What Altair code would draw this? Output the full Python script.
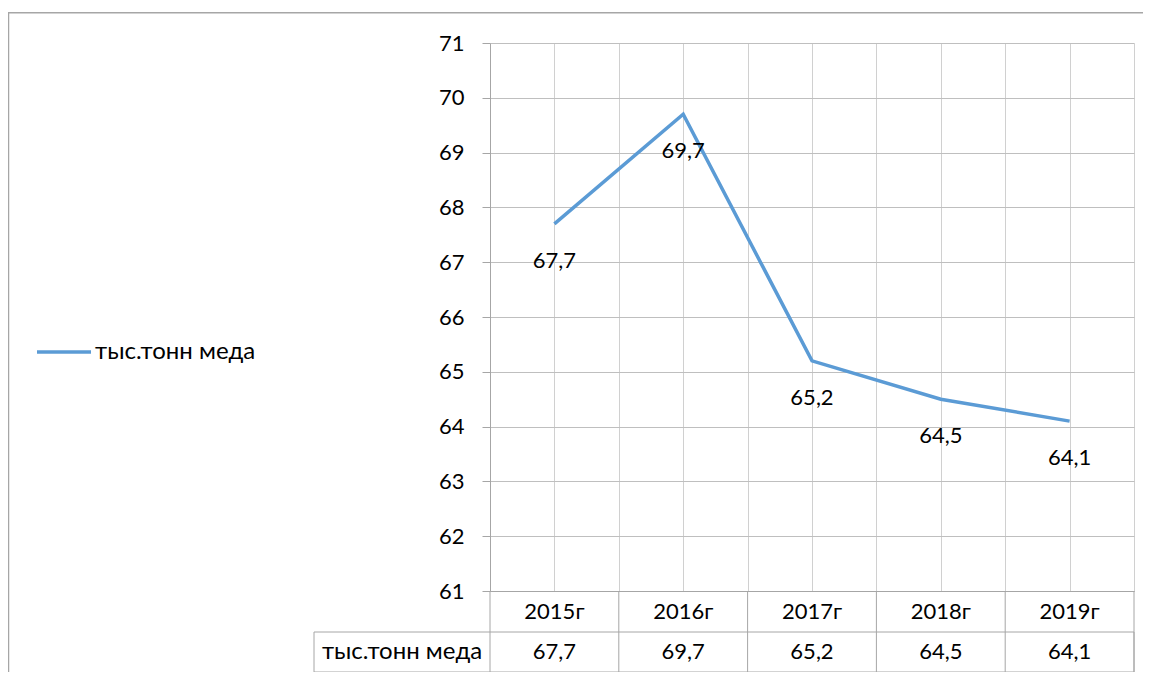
import altair as alt
import pandas as pd

# ---- data ----
years = ["2015г", "2016г", "2017г", "2018г", "2019г"]
values = [67.7, 69.7, 65.2, 64.5, 64.1]
series_name = "тыс.тонн меда"
y_ticks = [61, 62, 63, 64, 65, 66, 67, 68, 69, 70, 71]

FONT = "Lato"
FS = 22
FS_LABEL = 24
LINE_COLOR = "#5B9BD5"
BORDER = "#A6A6A6"
W, H = 644, 548

n = len(years)
df = pd.DataFrame({
    "year": years,
    "value": values,
    "pos": [i + 0.5 for i in range(n)],
    "series": [series_name] * n,
    "label": [f"{v:.1f}".replace(".", ",") for v in values],
})
bounds = pd.DataFrame({"b": list(range(n + 1))})
one = pd.DataFrame({"series": [series_name]})

xs = alt.Scale(domain=[0, n], nice=False, zero=False)
ys = alt.Scale(domain=[y_ticks[0], y_ticks[-1]], nice=False, zero=False)

x_axis = alt.Axis(values=[i * 0.5 for i in range(2 * n + 1)], labels=False, ticks=False,
                  title=None, grid=True, gridColor="#D0D0D0", domainColor=BORDER)
y_axis = alt.Axis(values=y_ticks, title=None, grid=True, gridColor="#BFBFBF",
                  tickSize=8, tickColor=BORDER, domainColor=BORDER,
                  labelFont=FONT, labelFontSize=FS, labelColor="#000000", labelPadding=18)

line = alt.Chart(df).mark_line(strokeWidth=3.5).encode(
    x=alt.X("pos:Q", scale=xs, axis=x_axis),
    y=alt.Y("value:Q", scale=ys, axis=y_axis),
    color=alt.Color("series:N", scale=alt.Scale(range=[LINE_COLOR]),
                    legend=alt.Legend(orient="none", legendX=-455, legendY=280, title=None,
                                      symbolType="stroke", symbolSize=2916, symbolStrokeWidth=3.5,
                                      labelFont=FONT, labelFontSize=FS_LABEL, labelColor="#000000",
                                      labelOffset=2, labelLimit=400)),
)

point_labels = alt.Chart(df).mark_text(dy=37, baseline="middle", align="center",
                                       font=FONT, fontSize=FS, color="#000000").encode(
    x=alt.X("pos:Q", scale=xs),
    y=alt.Y("value:Q", scale=ys),
    text="label:N",
)

# ---- data table below the plot ----
grid_rules = alt.Chart(bounds).mark_rule(color=BORDER, strokeWidth=1).encode(
    x=alt.X("b:Q", scale=xs),
    y=alt.value(H), y2=alt.value(629),
)
row2_box = alt.Chart(one).mark_rect(fillOpacity=0, stroke=BORDER, strokeWidth=1).encode(
    x=alt.value(-176), x2=alt.value(W), y=alt.value(589), y2=alt.value(629),
)
year_text = alt.Chart(df).mark_text(baseline="middle", align="center",
                                    font=FONT, fontSize=FS, color="#000000").encode(
    x=alt.X("pos:Q", scale=xs), y=alt.value(568.5), text="year:N",
)
value_text = alt.Chart(df).mark_text(baseline="middle", align="center",
                                     font=FONT, fontSize=FS, color="#000000").encode(
    x=alt.X("pos:Q", scale=xs), y=alt.value(609), text="label:N",
)
series_text = alt.Chart(one).mark_text(baseline="middle", align="center",
                                       font=FONT, fontSize=FS_LABEL, color="#000000").encode(
    x=alt.value(-88), y=alt.value(609), text="series:N",
)

frame = alt.Chart(one).mark_rect(fillOpacity=0, stroke="#A6A6A6", strokeWidth=1.5).encode(
    x=alt.value(-481.5), x2=alt.value(700), y=alt.value(-30.3), y2=alt.value(700),
)

chart = alt.layer(
    line, frame, point_labels, grid_rules, row2_box, year_text, value_text, series_text
).properties(
    width=W, height=H,
    autosize=alt.AutoSizeParams(type="none"),
    padding={"left": 482, "top": 35, "right": 9, "bottom": 81},
    background="white",
).configure_view(stroke=None)

chart.save("out.html", embed_options={"renderer": "svg", "actions": False})
